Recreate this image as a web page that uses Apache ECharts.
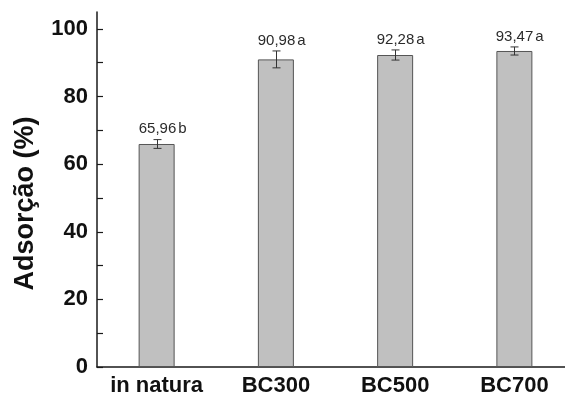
<!DOCTYPE html>
<html>
<head>
<meta charset="utf-8">
<script src="https://cdn.jsdelivr.net/npm/echarts@6/dist/echarts.min.js"></script>
<style>
  html, body { margin: 0; padding: 0; background: #fff; }
  #chart { width: 565px; height: 396px; }
</style>
</head>
<body>
<div id="chart"></div>
<script>
// Adsorption of each material (mean, standard deviation, Tukey group letter)
var categories = ['in natura', 'BC300', 'BC500', 'BC700'];
var adsorption = [65.96, 90.98, 92.28, 93.47];
var stdDev = [1.3, 2.5, 1.5, 1.2];
var groupLetters = ['b', 'a', 'a', 'a'];
var yTicks = [0, 20, 40, 60, 80, 100];
var yMinorTicks = [0, 10, 20, 30, 40, 50, 60, 70, 80, 90, 100];

var chart = echarts.init(document.getElementById('chart'), null, { renderer: 'canvas' });

var labelFont = '15px "Liberation Sans", Arial, sans-serif';
var measureCtx = document.createElement('canvas').getContext('2d');
measureCtx.font = labelFont;

function fmt(v) { return v.toFixed(2).replace('.', ','); }

var errData = categories.map(function (c, i) {
  return [i, adsorption[i], stdDev[i], groupLetters[i]];
});

var axisColor = '#1a1a1a';

chart.setOption({
  animation: false,
  backgroundColor: '#ffffff',
  grid: {
    left: 97, top: 12, width: 477, height: 355,
    containLabel: false,
    outerBoundsMode: 'none'
  },
  xAxis: {
    type: 'category',
    data: categories,
    axisLine: { lineStyle: { color: axisColor, width: 1.5 } },
    axisTick: { alignWithLabel: true, inside: true, length: 6, lineStyle: { color: axisColor, width: 1.2 } },
    axisLabel: {
      interval: 0,
      hideOverlap: false,
      color: '#111',
      fontFamily: '"Liberation Sans", Arial, sans-serif',
      fontWeight: 'bold',
      fontSize: 22,
      margin: 8
    },
    splitLine: { show: false }
  },
  yAxis: {
    type: 'value',
    min: 0,
    max: 105,
    name: 'Adsorção (%)',
    nameLocation: 'middle',
    nameGap: 58,
    nameTextStyle: {
      color: '#111',
      fontFamily: '"Liberation Sans", Arial, sans-serif',
      fontWeight: 'bold',
      fontSize: 27,
      padding: [0, 28, 0, 0]
    },
    axisLine: { show: true, lineStyle: { color: axisColor, width: 1.5 } },
    axisTick: {
      show: true,
      inside: true,
      length: 6,
      customValues: yMinorTicks,
      lineStyle: { color: axisColor, width: 1.2 }
    },
    axisLabel: {
      customValues: yTicks,
      color: '#111',
      fontFamily: '"Liberation Sans", Arial, sans-serif',
      fontWeight: 'bold',
      fontSize: 22,
      margin: 9
    },
    splitLine: { show: false }
  },
  series: [
    {
      type: 'bar',
      data: adsorption,
      barWidth: 36,
      itemStyle: { color: '#c0c0c0', borderColor: '#555555', borderWidth: 1 },
      z: 2
    },
    {
      type: 'custom',
      data: errData,
      z: 3,
      renderItem: function (params, api) {
        var i = api.value(0);
        var v = api.value(1);
        var e = api.value(2);
        var top = api.coord([i, v + e]);
        var bot = api.coord([i, v - e]);
        var x = Math.round(top[0]) + 0.5;
        var cap = 4;
        var ls = { stroke: '#333', lineWidth: 1 };
        var num = fmt(adsorption[params.dataIndex]);
        var letter = groupLetters[params.dataIndex];
        var halfW = measureCtx.measureText(num).width / 2;
        return {
          type: 'group',
          children: [
            { type: 'line', shape: { x1: x, y1: top[1], x2: x, y2: bot[1] }, style: ls },
            { type: 'line', shape: { x1: x - cap, y1: top[1], x2: x + cap, y2: top[1] }, style: ls },
            { type: 'line', shape: { x1: x - cap, y1: bot[1], x2: x + cap, y2: bot[1] }, style: ls },
            {
              type: 'text',
              style: {
                x: x, y: top[1] - 3,
                text: num,
                textAlign: 'center',
                textVerticalAlign: 'bottom',
                font: labelFont,
                fill: '#2b2b2b'
              }
            },
            {
              type: 'text',
              style: {
                x: x + halfW + 2, y: top[1] - 3,
                text: letter,
                textAlign: 'left',
                textVerticalAlign: 'bottom',
                font: labelFont,
                fill: '#2b2b2b'
              }
            }
          ]
        };
      }
    }
  ]
});
</script>
</body>
</html>
